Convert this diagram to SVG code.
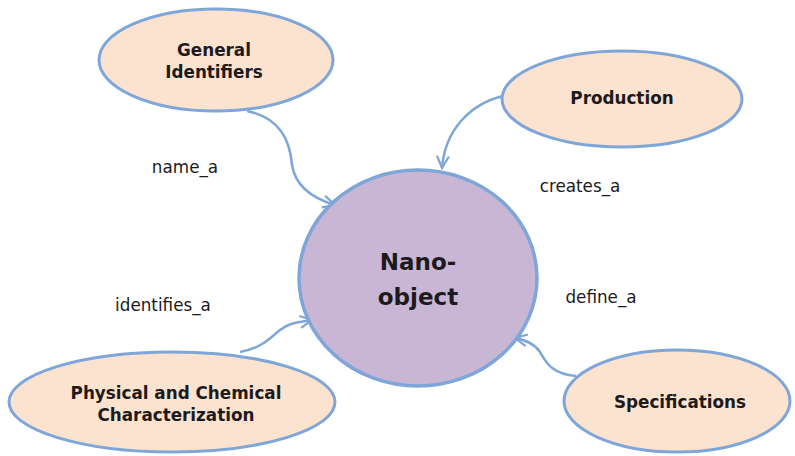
<svg xmlns="http://www.w3.org/2000/svg" width="795" height="456" viewBox="0 0 795 456">
  <style>
    .node { fill: #fbe3cf; stroke: #7ea6d8; stroke-width: 3; }
    .core { fill: #c9b5d4; stroke: #7ea6d8; stroke-width: 3.5; }
    .title { font-family: "DejaVu Sans", sans-serif; font-weight: bold; font-size: 16.8px; fill: #1c1a1c; text-anchor: middle; }
    .big { font-size: 23px; }
    .label { font-family: "DejaVu Sans", sans-serif; font-size: 16.8px; fill: #1c1a1c; text-anchor: middle; }
    .edge { fill: none; stroke: #7ea6d8; stroke-width: 2.5; }
  </style>
  <defs>
    <marker id="arrow" viewBox="0 0 15 15" refX="13" refY="7.5" markerWidth="15" markerHeight="15" markerUnits="userSpaceOnUse" orient="auto">
      <path d="M1,1.5 L13,7.5 L1,13.5" fill="none" stroke="#7ea6d8" stroke-width="2.2"/>
    </marker>
  </defs>

  <rect width="795" height="456" fill="#ffffff"/>

  <g id="connectors">
    <path class="edge" marker-end="url(#arrow)" d="M247,111 C280,118 290,140 292,165 C296,190 318,200 335,205"/>
    <path class="edge" marker-end="url(#arrow)" d="M503,96 C470,104 445,130 442,168"/>
    <path class="edge" marker-end="url(#arrow)" d="M240,352 C262,348 270,338 280,330 C290,322 300,322 312,320"/>
    <path class="edge" marker-end="url(#arrow)" d="M576,376 C550,374 545,360 540,352 C535,344 525,340 515,338"/>
  </g>

  <g id="label-name">
    <text class="label" x="185" y="173">name_a</text>
  </g>
  <g id="label-creates">
    <text class="label" x="580" y="192">creates_a</text>
  </g>
  <g id="label-identifies">
    <text class="label" x="163" y="311">identifies_a</text>
  </g>
  <g id="label-define">
    <text class="label" x="601" y="303">define_a</text>
  </g>

  <g id="node-general-identifiers">
    <ellipse class="node" cx="216" cy="60" rx="117" ry="51"/>
    <text class="title" x="214" y="56">General</text>
    <text class="title" x="214" y="78">Identifiers</text>
  </g>

  <g id="node-production">
    <ellipse class="node" cx="622" cy="99" rx="120" ry="48"/>
    <text class="title" x="622" y="104">Production</text>
  </g>

  <g id="node-nano-object">
    <ellipse class="core" cx="418" cy="278" rx="119" ry="108"/>
    <text class="title big" x="418" y="270">Nano-</text>
    <text class="title big" x="418" y="305">object</text>
  </g>

  <g id="node-physical-chemical">
    <ellipse class="node" cx="172" cy="402" rx="163" ry="50"/>
    <text class="title" x="176" y="399">Physical and Chemical</text>
    <text class="title" x="176" y="421">Characterization</text>
  </g>

  <g id="node-specifications">
    <ellipse class="node" cx="677" cy="401" rx="113" ry="51"/>
    <text class="title" x="680" y="408">Specifications</text>
  </g>
</svg>
